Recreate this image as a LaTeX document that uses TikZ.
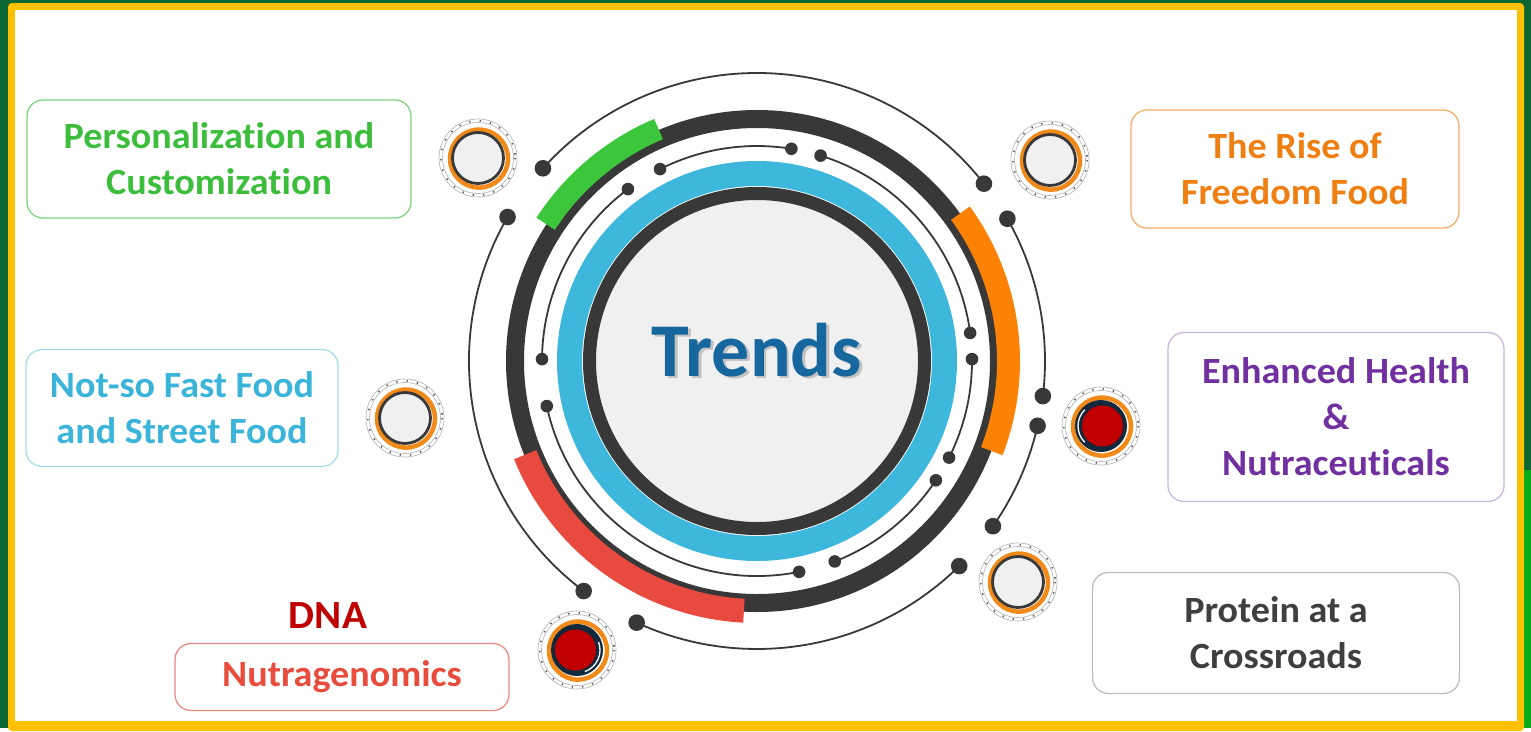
\documentclass[tikz,border=0pt]{standalone}
\usepackage{fontspec}
\setmainfont{Carlito}[Ligatures=NoCommon]
\newfontfamily\boxfont{Carlito}[FakeStretch=1.03, Ligatures=NoCommon]
\definecolor{bggreen}{HTML}{0B6633}
\definecolor{frameyellow}{HTML}{FFC000}
\definecolor{ringdark}{HTML}{383838}
\definecolor{ringblue}{HTML}{3DB7DC}
\definecolor{discgray}{HTML}{F0F0F0}
\definecolor{arcgreen}{HTML}{3CC63C}
\definecolor{arcorange}{HTML}{FB8205}
\definecolor{arcred}{HTML}{E84A3F}
\definecolor{trendsblue}{HTML}{16679E}
\definecolor{badgeorange}{HTML}{F28A1A}
\definecolor{badgenavy}{HTML}{14283C}
\definecolor{badgered}{HTML}{C00000}
\definecolor{tgreen}{HTML}{3CBE3C}\definecolor{bgreen}{HTML}{7FD67F}
\definecolor{torange}{HTML}{F07F12}\definecolor{borange}{HTML}{F6AE6A}
\definecolor{tblue}{HTML}{3BB4DA}\definecolor{bblue}{HTML}{A9DDEE}
\definecolor{tpurple}{HTML}{7030A0}\definecolor{bpurple}{HTML}{C9B6DE}
\definecolor{tgray}{HTML}{3F3F3F}\definecolor{bgray}{HTML}{BFBFBF}
\definecolor{tred}{HTML}{E84C3D}\definecolor{bred}{HTML}{EB8A84}
\definecolor{dnared}{HTML}{C00000}
\tikzset{
  trendbox/.style={draw, line width=1.3pt, fill=white, rounded corners=16pt,
    align=center, inner sep=0pt, font=\boxfont\fontsize{37}{46}\selectfont\bfseries},
  thinarc/.style={draw=ringdark, line width=1.8pt},
  dotbig/.style={fill=ringdark},
}
% outer arc with dots (angles in picture frame, y downwards)
\newcommand{\outerarc}[2]{%
  \draw[thinarc] (C) ++(#1:288) arc[start angle=#1, end angle=#2, radius=288];
  \fill[dotbig] (C) ++(#1:288) circle[radius=8.3];
  \fill[dotbig] (C) ++(#2:288) circle[radius=8.3];}
\newcommand{\innerarc}[2]{%
  \draw[thinarc] (C) ++(#1:215) arc[start angle=#1, end angle=#2, radius=215];
  \fill[dotbig] (C) ++(#1:215) circle[radius=6.3];
  \fill[dotbig] (C) ++(#2:215) circle[radius=6.3];}
\newcommand{\badgeouter}[2]{%
  \draw[gray!55, line width=0.7pt] (#1,#2) circle[radius=39];
  \draw[gray!55, line width=0.7pt] (#1,#2) circle[radius=35.5];
  \draw[black!65, line width=1.6pt, dash pattern=on 1.4pt off 9pt] (#1,#2) circle[radius=37.2];}
\newcommand{\graybadge}[2]{%
  \badgeouter{#1}{#2}
  \draw[badgeorange, line width=4.5pt] ($(#1,#2)+(1,0.6)$) circle[radius=29];
  \fill[discgray] (#1,#2) circle[radius=24.5];
  \draw[ringdark, line width=2.8pt] (#1,#2) circle[radius=25.5];}
% red badge: x, y, shift of red disc, crescent start, crescent end
\newcommand{\redbadge}[5]{%
  \badgeouter{#1}{#2}
  \draw[badgeorange, line width=4.5pt] ($(#1,#2)+(1,0.6)$) circle[radius=29];
  \fill[badgenavy] (#1,#2) circle[radius=26];
  \draw[white, line width=1.3pt] (#1,#2) ++(#4:23) arc[start angle=#4, end angle=#5, radius=23];
  \fill[badgered] ($(#1,#2)+(#3,0)$) circle[radius=20.5];}
\usetikzlibrary{calc}
\begin{document}
\begin{tikzpicture}[x=1pt, y=-1pt]
  % frame
  \fill[bggreen] (0,0) rectangle (1531,728);
  \fill[green!45!bggreen] (1524,470) rectangle (1531,728);
  \fill[frameyellow, rounded corners=4pt] (8,3) rectangle (1524,731);
  \fill[white] (15,10) rectangle (1517,721);
  \useasboundingbox (0,0) rectangle (1531,728);

  \coordinate (C) at (757,361);

  % thin arcs
  \outerarc{-138}{-38}
  \outerarc{127}{210}
  \outerarc{-29.6}{7}
  \outerarc{13}{35}
  \outerarc{45.4}{114.7}
  \innerarc{-116.8}{-80.8}
  \innerarc{-72.8}{-7.5}
  \innerarc{-0.5}{26.7}
  \innerarc{33.7}{68.8}
  \innerarc{78.7}{167.9}
  \innerarc{-179.5}{-126.9}

  % thick dark ring and coloured arcs
  \draw[ringdark, line width=18pt] (C) circle[radius=242];
  \draw[arcgreen, line width=22pt] (C) ++(-147:252) arc[start angle=-147, end angle=-113, radius=252];
  \draw[arcorange, line width=23pt] (C) ++(-36:251.5) arc[start angle=-36, end angle=21, radius=251.5];
  \draw[arcred, line width=24pt] (C) ++(-267:250) arc[start angle=-267, end angle=-202, radius=250];

  % centre disc
  \fill[discgray] (C) circle[radius=162];
  \draw[ringblue, line width=25pt] (C) circle[radius=187.5];
  \draw[ringdark, line width=13pt] (C) circle[radius=167.5];

  \node[text=black!45, opacity=0.45, font=\fontsize{76}{80}\selectfont\bfseries] at ($(C)+(2.5,-9)$) {Trends};
  \node[text=trendsblue, font=\fontsize{76}{80}\selectfont\bfseries] (trends) at ($(C)+(0,-11)$) {Trends};

  % badges
  \graybadge{478}{158}
  \graybadge{1050}{160}
  \graybadge{405}{418}
  \redbadge{1101}{426}{1.5}{135}{225}
  \graybadge{1018}{582}
  \redbadge{577}{650}{-1.5}{-20}{70}

  % text boxes
  \node[trendbox, draw=bgreen, text=tgreen, minimum width=384pt, minimum height=118pt] (pers) at (219,159) {Personalization and\\Customization};
  \node[trendbox, draw=borange, text=torange, minimum width=328pt, minimum height=118pt] (rise) at (1295,169) {The Rise of\\Freedom Food};
  \node[trendbox, draw=bblue, text=tblue, minimum width=312pt, minimum height=117pt] (fast) at (182,408) {Not-so Fast Food\\and Street Food};
  \node[trendbox, draw=bpurple, text=tpurple, minimum width=336pt, minimum height=169pt] (health) at (1336,417) {Enhanced Health\\\&\\Nutraceuticals};
  \node[trendbox, draw=bgray, text=tgray, minimum width=367pt, minimum height=121pt] (protein) at (1276,633) {Protein at a\\Crossroads};
  \node[trendbox, draw=bred, text=tred, minimum width=334pt, minimum height=67pt] (nutra) at (342,677) {Nutragenomics};
  \node[text=dnared, font=\boxfont\fontsize{40}{44}\selectfont\bfseries] (dna) at (328,616) {DNA};
\end{tikzpicture}
\end{document}
